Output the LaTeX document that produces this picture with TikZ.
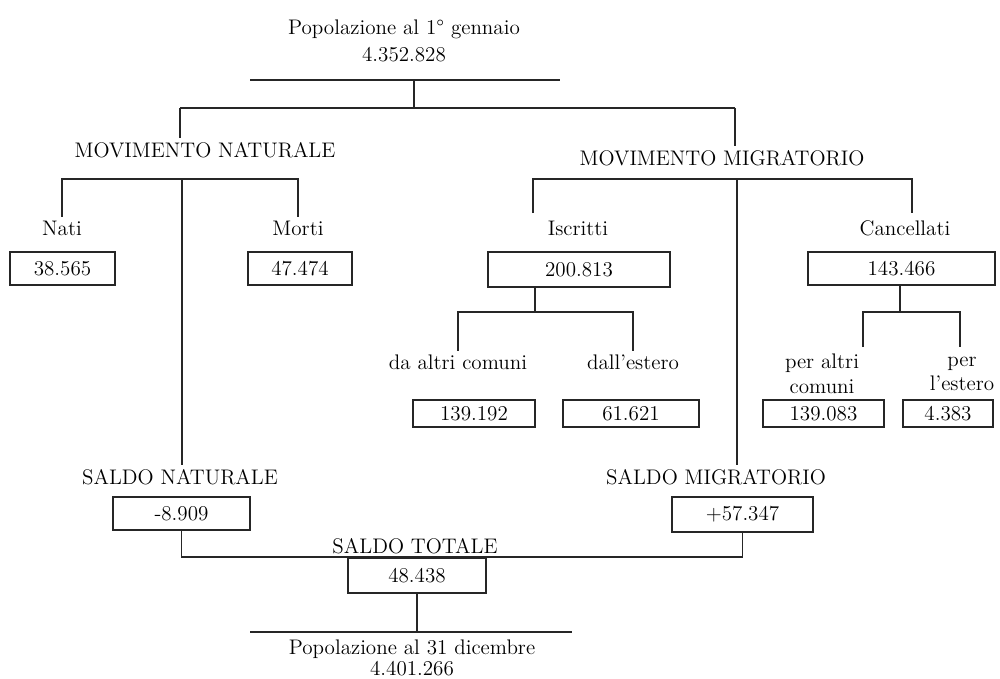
\documentclass[tikz,border=0pt]{standalone}
\usetikzlibrary{calc}
\definecolor{LineClr}{rgb}{0.15,0.15,0.15}

\begin{document}
\begin{tikzpicture}[x=0.02cm,y=-0.02cm,
  font=\fontsize{12}{15}\selectfont,
  lbl/.style={align=center,inner sep=2pt},
  valbox/.style={draw=LineClr,line width=0.8pt,minimum width=#1,minimum height=0.66cm,inner sep=0pt},
  link/.style={draw=LineClr,line width=0.8pt}]
\useasboundingbox (0,0) rectangle (1000,679);

\node[lbl] (popin) at (404,41) {Popolazione al 1\textdegree{} gennaio\\4.352.828};
\node[lbl] (movnat) at (205,150) {MOVIMENTO NATURALE};
\node[lbl] (movmig) at (722,158) {MOVIMENTO MIGRATORIO};

\node[lbl] (nati) at (62,228) {Nati};
\node[lbl] (morti) at (298,228) {Morti};
\node[lbl] (iscritti) at (578,228) {Iscritti};
\node[lbl] (cancellati) at (905,228) {Cancellati};

\node[valbox=2.1cm] (bnati) at (62.5,268.5) {38.565};
\node[valbox=2.08cm] (bmorti) at (300,268.5) {47.474};
\node[valbox=3.64cm,minimum height=0.7cm] (biscr) at (579,269.5) {200.813};
\node[valbox=3.74cm] (bcanc) at (901.5,268.5) {143.466};

\node[lbl] (daaltri) at (458,362) {da altri comuni};
\node[lbl] (dallest) at (633,362) {dall'estero};
\node[lbl,font=\fontsize{12}{14}\selectfont] (peraltri) at (822,374) {per altri\\comuni};
\node[lbl,font=\fontsize{12}{14}\selectfont] (perest) at (962,374) {per\\l'estero};

\node[valbox=2.44cm,minimum height=0.54cm] (bdaaltri) at (474,413.5) {139.192};
\node[valbox=2.72cm,minimum height=0.54cm] (bdallest) at (631,413.5) {61.621};
\node[valbox=2.42cm,minimum height=0.54cm] (bperaltri) at (823.5,413.5) {139.083};
\node[valbox=1.8cm,minimum height=0.54cm] (bperest) at (948,413.5) {4.383};

\node[lbl] (saldonat) at (180,477) {SALDO NATURALE};
\node[lbl] (saldomig) at (716,477) {SALDO MIGRATORIO};
\node[valbox=2.74cm] (bsnat) at (181.5,513.5) {-8.909};
\node[valbox=2.82cm,minimum height=0.7cm] (bsmig) at (742.5,514.5) {+57.347};

\node[lbl] (saldotot) at (415,546) {SALDO TOTALE};
\node[valbox=2.76cm,minimum height=0.7cm] (btot) at (417,575.5) {48.438};
\node[lbl,font=\fontsize{12}{12}\selectfont] (popfin) at (412,658) {Popolazione al 31 dicembre\\4.401.266};

\coordinate (l1L) at (250,80);
\coordinate (l1R) at (560,80);
\coordinate (l2L) at (180,108);
\coordinate (l2R) at (735,108);
\coordinate (topfork) at (414,108);
\coordinate (natfork) at (182,179);
\coordinate (migfork) at (737,179);
\coordinate (iscleg) at (533,213);
\coordinate (cancleg) at (912,213);
\coordinate (iscfork) at (535,312);
\coordinate (canfork) at (900,312);
\coordinate (paleg) at (863,347);
\coordinate (peleg) at (960,347);
\coordinate (totfork) at (415,557);
\coordinate (l3L) at (250,632);
\coordinate (l3R) at (572,632);

\draw[link] (l1L) -- (l1R);
\draw[link] (l2L) -- (l2R);
\draw[link] (topfork) -- (topfork |- l1L);
\draw[link] (l2L) -- (l2L |- movnat.north);
\draw[link] (l2R) -- (l2R |- movmig.north);

\draw[link] (nati.north) |- (natfork) -| (morti.north);
\draw[link] (natfork) -- (natfork |- saldonat.north);
\draw[link] (iscleg) |- (migfork) -| (cancleg);
\draw[link] (migfork) -- (migfork |- saldomig.north);

\draw[link] (iscfork |- biscr.south) -- (iscfork);
\draw[link] (daaltri.north) |- (iscfork) -| (dallest.north);
\draw[link] (canfork |- bcanc.south) -- (canfork);
\draw[link] (paleg) |- (canfork) -| (peleg);

\draw[link] (bsnat.south) |- (totfork) -| (bsmig.south);
\draw[link] (btot.south) -- (btot.south |- l3L);
\draw[link] (l3L) -- (l3R);

\end{tikzpicture}
\end{document}
